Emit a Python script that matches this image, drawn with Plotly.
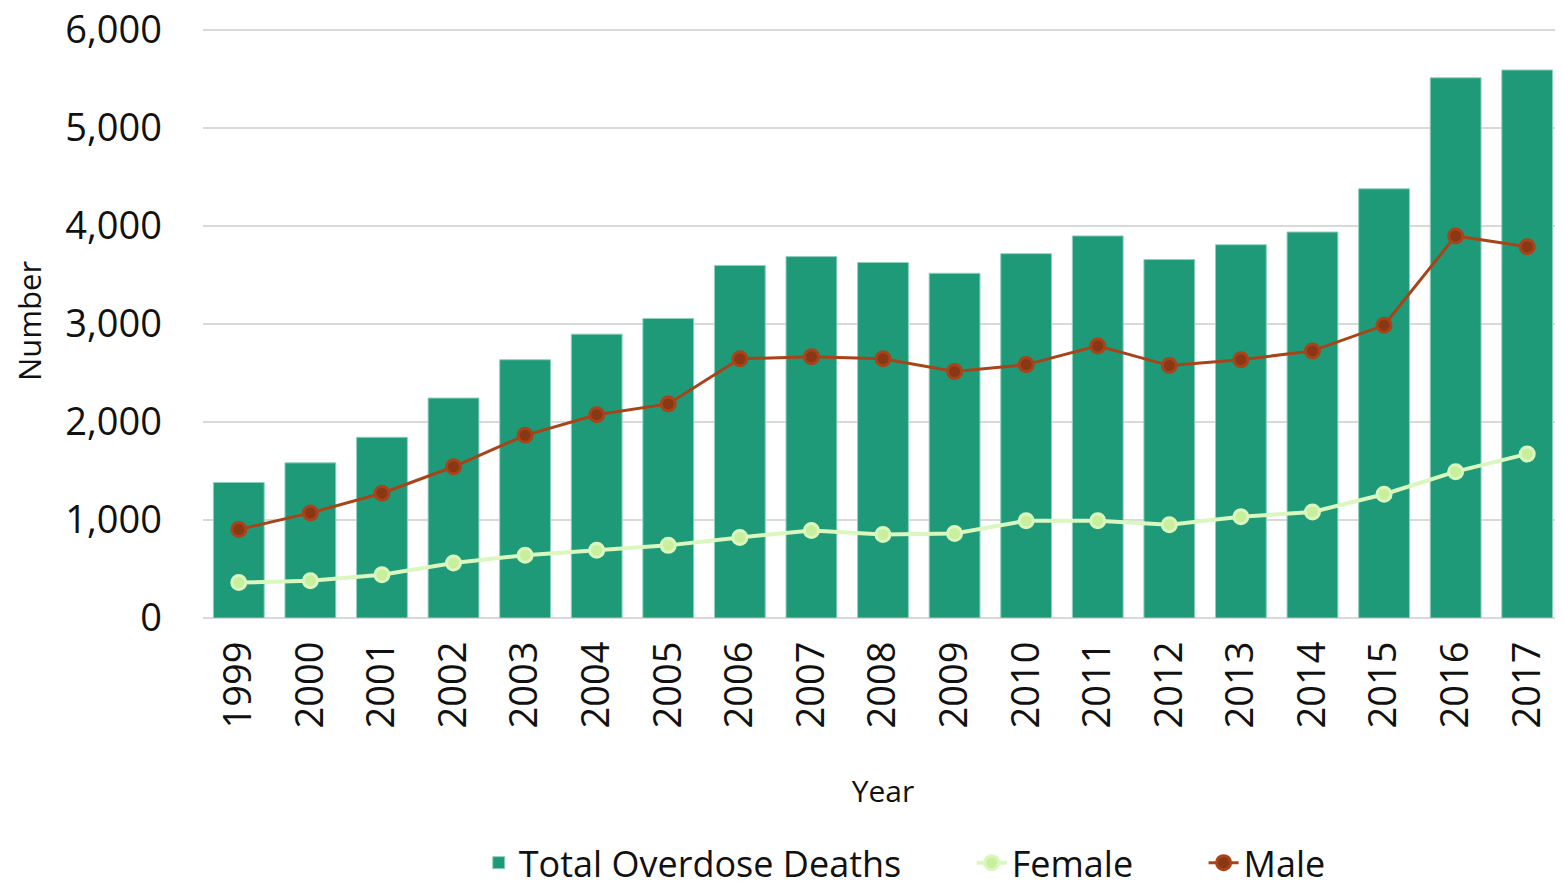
import plotly.graph_objects as go

years = [str(y) for y in range(1999, 2018)]
total_deaths = [1383, 1583, 1844, 2244, 2635, 2896, 3056, 3597, 3687, 3627,
                3517, 3717, 3898, 3657, 3808, 3938, 4379, 5511, 5591]
female = [361, 381, 441, 561, 641, 691, 741, 822, 892, 852,
          862, 992, 992, 952, 1032, 1082, 1263, 1493, 1673]
male = [902, 1072, 1273, 1543, 1864, 2074, 2184, 2645, 2665, 2645,
        2515, 2585, 2776, 2575, 2635, 2725, 2986, 3898, 3788]
y_ticks = [0, 1000, 2000, 3000, 4000, 5000, 6000]

font_family = "Open Sans, Noto Sans, sans-serif"
pad = '\u00a0' * 7

fig = go.Figure()

fig.add_trace(go.Bar(
    x=years, y=total_deaths,
    name='Total Overdose Deaths' + pad,
    marker=dict(color='#1f9a78', line=dict(color='#8fd1bd', width=1)),
))

fig.add_trace(go.Scatter(
    x=years, y=female,
    name='Female' + pad,
    mode='lines+markers',
    line=dict(color='#d9f7be', width=4),
    marker=dict(color='#c8ef9c', size=14, line=dict(color='#d9f7be', width=3)),
))

fig.add_trace(go.Scatter(
    x=years, y=male,
    name='Male',
    mode='lines+markers',
    line=dict(color='#a8431a', width=3),
    marker=dict(color='#8a3715', size=14, line=dict(color='#a8431a', width=3)),
))

# page body has an 8px margin, so the figure is sized to the visible area
fig.update_layout(
    width=1555, height=885,
    margin=dict(l=195, r=0, t=16, b=275, autoexpand=False),
    plot_bgcolor='white',
    paper_bgcolor='white',
    bargap=0.29,
    font=dict(family=font_family, color='#111111'),
    legend=dict(
        orientation='h',
        x=0.516, xanchor='center',
        y=-0.412, yanchor='middle',
        font=dict(size=36),
        traceorder='normal',
    ),
    xaxis=dict(
        title=dict(text='Year', font=dict(size=30), standoff=53),
        range=[-0.5, 18.5],
        tickangle=-90,
        tickfont=dict(size=38),
        ticklabelstandoff=15,
        showgrid=False,
        showline=False,
        ticks='',
        automargin=False,
    ),
    yaxis=dict(
        title=dict(text='Number', font=dict(size=31), standoff=46),
        range=[0, 6060],
        tickvals=y_ticks,
        tickformat=',d',
        tickfont=dict(size=38),
        ticklabelstandoff=40,
        ticklabeloverflow='allow',
        gridcolor='#d9d9d9',
        gridwidth=2,
        zeroline=True,
        zerolinecolor='#d9d9d9',
        zerolinewidth=2,
        ticks='',
        automargin=False,
    ),
)

fig.write_html("out.html")
